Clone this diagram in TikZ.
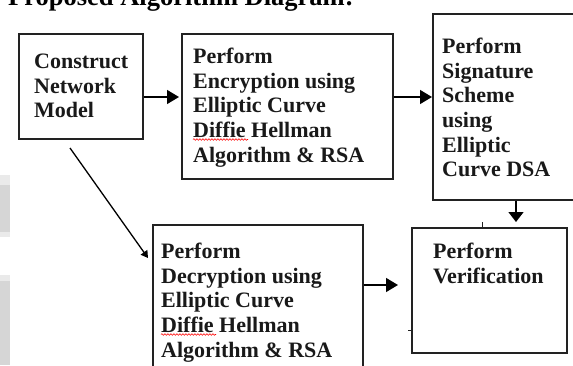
\documentclass[tikz,border=0pt]{standalone}
\usepackage{fontspec}
\setmainfont{Liberation Serif}
\usetikzlibrary{arrows.meta,decorations.pathmorphing}
\definecolor{edge}{HTML}{222222}
\definecolor{greyA}{HTML}{D6D6D6}
\definecolor{greyB}{HTML}{EAEAEA}
\tikzset{
  box/.style={draw=edge, line width=1.6pt, rectangle, inner sep=0pt, anchor=north west},
  txt/.style={font=\fontsize{22pt}{24.6pt}\selectfont\bfseries, align=left, inner sep=0pt, anchor=north west, text=black!90},
  arr/.style={draw=black, line width=1.4pt, -{Triangle[length=12pt,width=14pt]}},
  arrsmall/.style={draw=black, line width=1.3pt, -{Triangle[length=7pt,width=8pt]}},
  wavy/.style={draw=red, line width=0.6pt, decorate, decoration={snake, amplitude=0.8pt, segment length=3pt}}
}
\begin{document}
\begin{tikzpicture}[x=1pt,y=-1pt]
\useasboundingbox (0,0) rectangle (573,365);
\clip (0,0) rectangle (573,365);
\fill[white] (0,0) rectangle (573,365);
% grey background bits on the left edge
\fill[greyB] (0,175) rectangle (10,237);
\fill[greyA] (0,185) rectangle (10,232);
\fill[greyB] (0,275) rectangle (10,281);
\fill[greyA] (0,281) rectangle (10,365);
% title (cut at top)
\node[font=\fontsize{26.5pt}{30pt}\selectfont\bfseries, inner sep=0pt, anchor=base west] (title) at (8,5) {Proposed Algorithm Diagram:};
% boxes
\node[box, minimum width=124pt, minimum height=105pt] (b1) at (18,33) {};
\node[box, minimum width=211pt, minimum height=145pt] (b2) at (181,33) {};
\node[box, minimum width=150pt, minimum height=186pt] (b3) at (432,13) {};
\node[box, minimum width=210pt, minimum height=150pt] (b4) at (152,224) {};
\node[box, minimum width=155pt, minimum height=125pt] (b5) at (411,227) {};
% texts
\node[txt] (t1) at (34,54) {Construct\\Network\\Model};
\node[txt] (t2) at (193,48) {Perform\\Encryption using\\Elliptic Curve\\Diffie Hellman\\Algorithm \& RSA};
\node[txt] (t3) at (442,38) {Perform\\Signature\\Scheme\\using\\Elliptic\\Curve DSA};
\node[txt] (t4) at (161,243) {Perform\\Decryption using\\Elliptic Curve\\Diffie Hellman\\Algorithm \& RSA};
\node[txt] (t5) at (433,243) {Perform\\Verification};
% spell-check underlines
\draw[wavy] (193,139.5) -- (248,139.5);
\draw[wavy] (161,334.5) -- (216,334.5);
% connectors
\coordinate (d0) at (70,148);
\draw[arr] (b1.east |- 0,97) -- ([xshift=-2pt]b2.west |- 0,97);
\draw[arr] (b2.east |- 0,97) -- (b3.west |- 0,97);
\draw[arr, -{Triangle[length=10pt,width=15pt]}] (b3.south -| 516,0) -- ([yshift=5pt]b5.north -| 516,0);
\draw[arr] (b4.east |- 0,285) -- ([xshift=-13pt]b5.west |- 0,285);
\draw[arrsmall] (d0) -- ([xshift=-4pt]b4.west |- 0,258);
% small stray ticks
\draw[edge, line width=1pt] (482,222) -- (b5.north -| 482,0);
\draw[edge, line width=1pt] (408,330) -- (b5.west |- 0,330);
\end{tikzpicture}
\end{document}
